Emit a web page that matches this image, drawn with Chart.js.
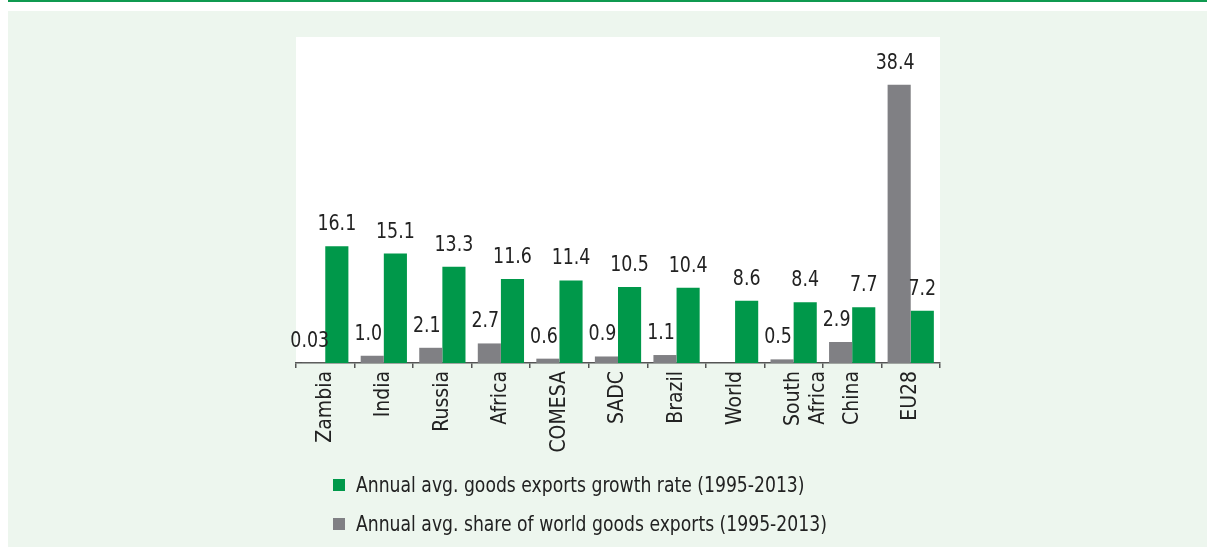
<!DOCTYPE html>
<html>
<head>
<meta charset="utf-8">
<title>Goods exports growth and share</title>
<script src="https://cdn.jsdelivr.net/npm/chart.js@4/dist/chart.umd.min.js"></script>
<style>
  html, body { margin: 0; padding: 0; background: #fff; }
  body { width: 1207px; height: 547px; position: relative; overflow: hidden;
         font-family: "Liberation Sans Narrow", "DejaVu Sans Condensed", "Arial Narrow", sans-serif; }
  .topline { position: absolute; left: 8px; top: 0; right: 0; height: 2px; background: #0f9a50; }
  .panel { position: absolute; left: 8px; top: 11px; right: 0; bottom: 0; background: #edf6ee; }
  #wrap { position: absolute; left: 8px; top: 11px; width: 1199px; height: 455px; }
  #legend { position: absolute; left: 333px; top: 465px; color: #222; font-size: 22px; }
  #legend .row { display: flex; align-items: center; height: 39px; }
  #legend .box { width: 12px; height: 12px; margin-right: 11px; flex: none; }
  #legend .txt { display: inline-block; transform: scaleX(0.87); transform-origin: left center; white-space: nowrap; }
</style>
</head>
<body>
<div class="topline"></div>
<div class="panel"></div>
<div id="wrap"><canvas id="chart"></canvas></div>
<div id="legend"></div>

<script>
// Kategorier och värden
const categories = ["Zambia", "India", "Russia", "Africa", "COMESA", "SADC", "Brazil", "World", ["South", "Africa"], "China", "EU28"];
const shareValues = [0.03, 1.0, 2.1, 2.7, 0.6, 0.9, 1.1, null, 0.5, 2.9, 38.4];
const growthValues = [16.1, 15.1, 13.3, 11.6, 11.4, 10.5, 10.4, 8.6, 8.4, 7.7, 7.2];

const shareLabel = "Annual avg. share of world goods exports (1995-2013)";
const growthLabel = "Annual avg. goods exports growth rate (1995-2013)";

const GREEN = "#00984a";
const GREY = "#808084";
const FONT = "'Liberation Sans Narrow', 'DejaVu Sans Condensed', 'Arial Narrow', sans-serif";

// vit bakgrund bakom ritytan
const plotBg = {
  id: "plotBg",
  beforeDraw(chart) {
    const { ctx, chartArea: a } = chart;
    ctx.save();
    ctx.fillStyle = "#ffffff";
    ctx.fillRect(a.left, a.top, a.right - a.left, a.bottom - a.top);
    ctx.restore();
  }
};

// siffror ovanför staplarna (lite hoptryckta i sidled)
const valueLabels = {
  id: "valueLabels",
  afterDatasetsDraw(chart) {
    const ctx = chart.ctx;
    chart.data.datasets.forEach((ds, i) => {
      chart.getDatasetMeta(i).data.forEach((bar, j) => {
        const v = ds.data[j];
        if (v === null || v === undefined) return;
        const txt = v < 0.1 ? v.toFixed(2) : v.toFixed(1);
        const dx = i === 0 ? -4 : 0;
        ctx.save();
        ctx.translate(bar.x + dx, bar.y - 16);
        ctx.scale(0.88, 1);
        ctx.font = "22px " + FONT;
        ctx.fillStyle = "#222";
        ctx.textAlign = "center";
        ctx.textBaseline = "alphabetic";
        ctx.fillText(txt, 0, 0);
        ctx.restore();
      });
    });
  }
};

const chart = new Chart(document.getElementById("chart"), {
  type: "bar",
  data: {
    labels: categories,
    datasets: [
      { label: shareLabel, data: shareValues, backgroundColor: GREY },
      { label: growthLabel, data: growthValues, backgroundColor: GREEN }
    ]
  },
  options: {
    responsive: true,
    maintainAspectRatio: false,
    animation: false,
    layout: { padding: { left: 288, right: 267, top: 26, bottom: 3 } },
    datasets: { bar: { categoryPercentage: 0.79, barPercentage: 1.0 } },
    plugins: {
      legend: { display: false },
      tooltip: { enabled: false }
    },
    scales: {
      x: {
        afterFit: (s) => { s.height = 100; },
        border: { display: true, color: "#555", width: 1.5 },
        grid: { offset: true, drawOnChartArea: false, color: "#555", lineWidth: 1.5, tickLength: 5 },
        ticks: {
          color: "#222",
          font: { family: FONT, size: 21 },
          minRotation: 90,
          maxRotation: 90,
          padding: 3,
          autoSkip: false
        }
      },
      y: { display: false, min: 0, max: 45 }
    }
  },
  plugins: [plotBg, valueLabels]
});

// förklaring under diagrammet, grön serie först
const legendEl = document.getElementById("legend");
[1, 0].forEach((i) => {
  const ds = chart.data.datasets[i];
  const row = document.createElement("div");
  row.className = "row";
  row.innerHTML = '<span class="box" style="background:' + ds.backgroundColor + '"></span><span class="txt">' + ds.label + "</span>";
  legendEl.appendChild(row);
});
</script>
</body>
</html>
